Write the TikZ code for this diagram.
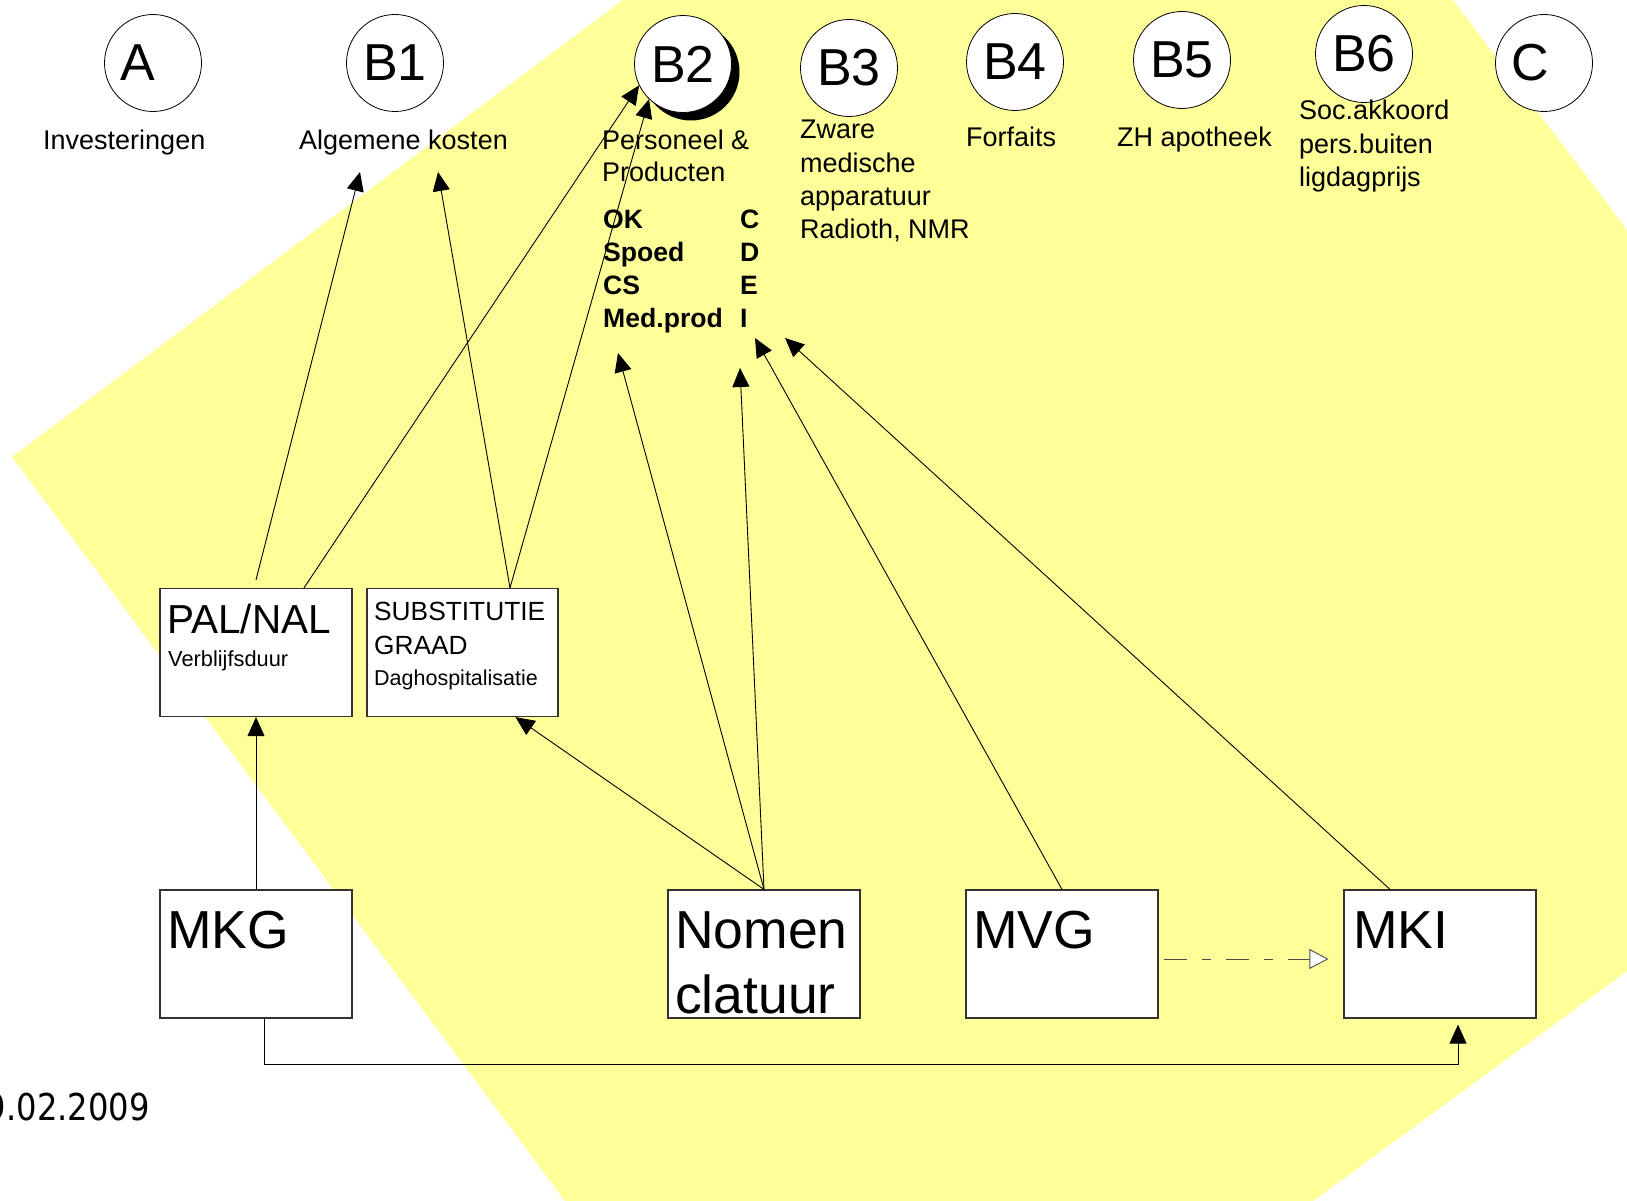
\documentclass[tikz,border=0pt]{standalone}
\usepackage{fontspec}
\setmainfont{Liberation Sans}
\newfontfamily\datefont[FakeStretch=0.87]{DejaVu Sans}
\usetikzlibrary{arrows.meta,calc,shadows}
\definecolor{bgyellow}{RGB}{255,255,153}
\begin{document}
\begin{tikzpicture}[x=1pt,y=-1pt,
  circ/.style={circle,draw=black,line width=0.8pt,fill=white,minimum size=97pt,inner sep=0pt,font=\fontsize{52}{52}\selectfont},
  box/.style={rectangle,draw=black!80,line width=1.2pt,fill=white,minimum width=192pt,minimum height=128pt,inner sep=0pt},
  txt/.style={anchor=base west,inner sep=0pt,font=\fontsize{27}{33}\selectfont},
  bigtxt/.style={anchor=base west,inner sep=0pt,font=\fontsize{53.5}{53.5}\selectfont},
  arr/.style={line width=0.9pt,-{Triangle[length=19pt,width=17pt]}},
  dashdot/.style={line width=0.9pt,draw=black!70,dash pattern=on 23pt off 15pt on 9pt off 15pt,-{Triangle[length=19pt,width=20pt,fill=white,line width=0.9pt]}}]
\useasboundingbox (0,0) rectangle (1627,1201);
% background
\fill[bgyellow] (623,0) -- (12,457) -- (565,1201) -- (1313,1201) -- (1627,971) -- (1627,230) -- (1453,0) -- cycle;

% circles
\node[circ,text width=66pt,align=left] (a)  at (153,63) {A};
\node[circ] (b1) at (395,63) {B1};
\node[circ,drop shadow={shadow xshift=8pt,shadow yshift=-8pt,opacity=1,fill=black}] (b2) at (683,64) {B2};
\node[circ] (b3) at (849,68) {B3};
\node[circ] (b4) at (1015,62) {B4};
\node[circ] (b5) at (1182,60) {B5};
\node[circ] (b6) at (1364,54) {B6};
\node[circ,text width=66pt,align=left] (c)  at (1544,63) {C};

% circle labels
\node[txt] (ta)  at (43,150) {Investeringen};
\node[txt] (tb1) at (299,150) {Algemene kosten};
\node[txt] (tb2) at (602,150) {\vtop{\baselineskip=32pt\hbox{Personeel \&}\hbox{Producten}}};
\node[txt,font=\bfseries\fontsize{26.6}{33}\selectfont] (codes) at (603,228)
  {\vtop{\baselineskip=33.3pt
   \hbox{\hbox to 137pt{OK\hfil}C}
   \hbox{\hbox to 137pt{Spoed\hfil}D}
   \hbox{\hbox to 137pt{CS\hfil}E}
   \hbox{\hbox to 137pt{Med.prod\hfil}I}}};
\node[txt] (tb3) at (800,139) {\vtop{\baselineskip=33.3pt\hbox{Zware}\hbox{medische}\hbox{apparatuur}\hbox{Radioth, NMR}}};
\node[txt] (tb4) at (966,147) {Forfaits};
\node[txt] (tb5) at (1117,147) {ZH apotheek};
\node[txt] (tb6) at (1299,120) {\vtop{\baselineskip=33.5pt\hbox{Soc.akkoord}\hbox{pers.buiten}\hbox{ligdagprijs}}};

% boxes
\node[box] (palnal) at (256,652.5) {};
\node[box,minimum width=191pt] (subst) at (462.5,652.5) {};
\node[box] (mkg)   at (256,954) {};
\node[box] (nomen) at (764,954) {};
\node[box] (mvg)   at (1062,954) {};
\node[box] (mki)   at (1440,954) {};

% box texts
\node[anchor=base west,inner sep=0pt,font=\fontsize{40.5}{40.5}\selectfont] (tpal) at (167,633) {PAL/NAL};
\node[anchor=base west,inner sep=0pt,font=\fontsize{21.8}{21.8}\selectfont] (tverb) at (168,666) {Verblijfsduur};
\node[anchor=base west,inner sep=0pt,font=\fontsize{26.3}{26.3}\selectfont] (tsub) at (374,620) {SUBSTITUTIE};
\node[anchor=base west,inner sep=0pt,font=\fontsize{26.3}{26.3}\selectfont] (tgraad) at (374,654) {GRAAD};
\node[anchor=base west,inner sep=0pt,font=\fontsize{21.5}{21.5}\selectfont] (tdag) at (374,685) {Daghospitalisatie};
\node[bigtxt] (tmkg) at (167,948) {MKG};
\node[bigtxt] (tnom) at (675,948) {\vtop{\baselineskip=65pt\hbox{Nomen}\hbox{clatuur}}};
\node[bigtxt] (tmvg) at (973,948) {MVG};
\node[bigtxt] (tmki) at (1353,948) {MKI};

% free arrow ends
\coordinate (b1l) at (360,172);
\coordinate (b1r) at (438,172);
\coordinate (okend) at (618,353);
\coordinate (iend) at (740,368);
\coordinate (mvgend) at (755,338);
\coordinate (mkiend) at (785,338);

% connectors
\draw[arr] (mkg) -- (palnal);
\draw[arr] ($(mkg.south)+(8,0)$) -- ++(0,46) -| ($(mki.south)+(18,6)$);
\draw[arr] ($(palnal.north)+(0,-8)$) -- (b1l);
\draw[arr] ($(palnal.north)+(48,0)$) -- (b2.206);
\draw[arr] ($(subst.north)+(47.5,0)$) -- (b1r);
\draw[arr] ($(subst.north)+(47.5,0)$) -- (b2.226);
\draw[arr] (nomen.north) -- ($(subst.south)+(53,0)$);
\draw[arr] (nomen.north) -- (okend);
\draw[arr] (nomen.north) -- (iend);
\draw[arr] (mvg.north) -- (mvgend);
\draw[arr] ($(mki.north)+(-50,0)$) -- (mkiend);
\draw[dashdot] ($(mvg.east)+(5,5)$) -- ($(mki.west)+(-15,5)$);

% date
\begin{scope}
\clip (0,0) rectangle (1627,1201);
\node[anchor=base east,inner sep=0pt,font=\datefont\fontsize{37}{37}\selectfont] (date) at (150,1120) {9.02.2009};
\end{scope}
\end{tikzpicture}
\end{document}
